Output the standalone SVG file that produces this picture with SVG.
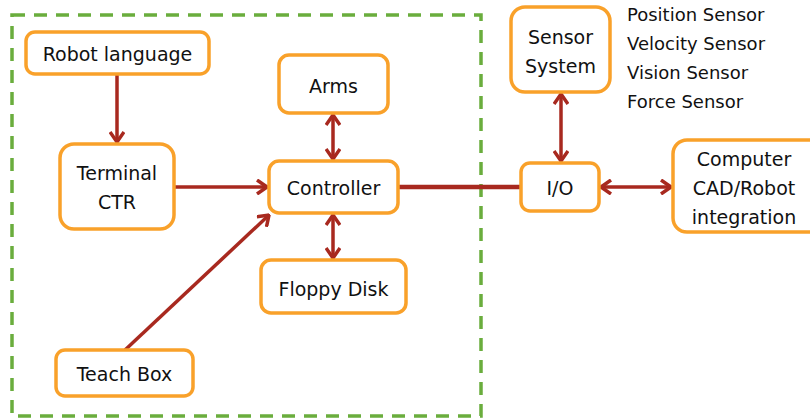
<svg xmlns="http://www.w3.org/2000/svg" width="810" height="418" viewBox="0 0 810 418">
  <style>
    .box { fill: #ffffff; stroke: #F9A12A; stroke-width: 3.5; }
    .lbl { font-family: "DejaVu Sans", "Liberation Sans", sans-serif; font-size: 19px; fill: #111111; text-anchor: middle; dominant-baseline: central; }
    .side { font-family: "DejaVu Sans", "Liberation Sans", sans-serif; font-size: 18px; fill: #111111; dominant-baseline: central; }
    .wire { fill: none; stroke: #A8291F; stroke-width: 3.5; }
    .frame { fill: none; stroke: #6AAD3D; stroke-width: 3.5; stroke-dasharray: 13 9; }
  </style>
  <defs>
    <marker id="head" viewBox="0 0 12 16" refX="11" refY="8" markerWidth="12" markerHeight="16" markerUnits="userSpaceOnUse" orient="auto-start-reverse">
      <path d="M1,1 L11,8 L1,15" fill="none" stroke="#A8291F" stroke-width="3.5" stroke-linejoin="miter"/>
    </marker>
  </defs>

  <!-- robot controller enclosure -->
  <rect class="frame" x="12" y="15" width="469" height="401"/>

  <g id="connectors">
    <line class="wire" x1="117" y1="75" x2="117" y2="142" marker-end="url(#head)"/>
    <line class="wire" x1="175" y1="187" x2="267" y2="187" marker-end="url(#head)"/>
    <line class="wire" x1="125" y1="350" x2="269" y2="215" marker-end="url(#head)"/>
    <line class="wire" x1="333" y1="115" x2="333" y2="159" marker-start="url(#head)" marker-end="url(#head)"/>
    <line class="wire" x1="333" y1="215" x2="333" y2="258" marker-start="url(#head)" marker-end="url(#head)"/>
    <line class="wire" x1="399" y1="187" x2="521" y2="187" style="stroke-width:4.5"/>
    <line class="wire" x1="561" y1="94" x2="561" y2="161" marker-start="url(#head)" marker-end="url(#head)"/>
    <line class="wire" x1="601" y1="187" x2="671" y2="187" marker-start="url(#head)" marker-end="url(#head)"/>
  </g>

  <g id="robot-language">
    <rect class="box" x="26" y="32" width="183" height="42" rx="9"/>
    <text class="lbl" x="117.5" y="54">Robot language</text>
  </g>
  <g id="terminal-ctr">
    <rect class="box" x="60" y="144" width="114" height="85" rx="14"/>
    <text class="lbl" x="117" y="173">Terminal</text>
    <text class="lbl" x="117" y="202">CTR</text>
  </g>
  <g id="teach-box">
    <rect class="box" x="56" y="350" width="137" height="46" rx="9"/>
    <text class="lbl" x="124.5" y="374">Teach Box</text>
  </g>
  <g id="controller">
    <rect class="box" x="269" y="161" width="129" height="52" rx="10"/>
    <text class="lbl" x="333.5" y="188">Controller</text>
  </g>
  <g id="arms">
    <rect class="box" x="279" y="55" width="109" height="58" rx="10"/>
    <text class="lbl" x="333.5" y="86">Arms</text>
  </g>
  <g id="floppy-disk">
    <rect class="box" x="261" y="260" width="145" height="53" rx="10"/>
    <text class="lbl" x="333.5" y="289">Floppy Disk</text>
  </g>
  <g id="sensor-system">
    <rect class="box" x="511" y="7" width="99" height="85" rx="14"/>
    <text class="lbl" x="560.5" y="37">Sensor</text>
    <text class="lbl" x="560.5" y="66">System</text>
  </g>
  <g id="io">
    <rect class="box" x="521" y="163" width="78" height="48" rx="9"/>
    <text class="lbl" x="560" y="188">I/O</text>
  </g>
  <g id="computer">
    <rect class="box" x="673" y="140" width="150" height="92" rx="14"/>
    <text class="lbl" x="744" y="159">Computer</text>
    <text class="lbl" x="744" y="188">CAD/Robot</text>
    <text class="lbl" x="744" y="217">integration</text>
  </g>

  <g id="sensor-types">
    <text class="side" x="627" y="14">Position Sensor</text>
    <text class="side" x="627" y="43">Velocity Sensor</text>
    <text class="side" x="627" y="72">Vision Sensor</text>
    <text class="side" x="627" y="101">Force Sensor</text>
  </g>
</svg>
